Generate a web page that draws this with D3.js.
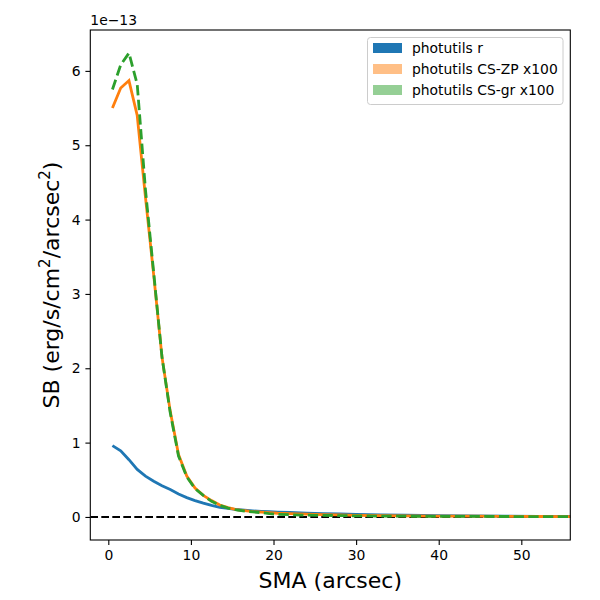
<!DOCTYPE html>
<html>
<head>
<meta charset="utf-8">
<script src="https://cdn.jsdelivr.net/npm/d3@7"></script>
<style>
  body { margin: 0; background: #fff; }
  svg { font-family: "DejaVu Sans", sans-serif; }
</style>
</head>
<body>
<svg id="chart" width="600" height="600"></svg>
<script>
// surface brightness profiles, values in units of 1e-13
const sma = [0.5, 1.5, 2.5, 3.5, 4.5, 5.5, 6.5, 7.5, 8.5, 9.5, 10.5, 11.5, 12.5, 13.5, 14.5, 15.5, 16.5, 17.5, 18.5, 19.5, 20.5, 22, 24, 26, 28, 30, 33, 36, 40, 44, 48, 52, 56, 60];
const sbR = [0.96, 0.89, 0.77, 0.64, 0.55, 0.48, 0.42, 0.37, 0.31, 0.26, 0.22, 0.185, 0.155, 0.13, 0.115, 0.10, 0.09, 0.082, 0.075, 0.07, 0.065, 0.06, 0.052, 0.045, 0.04, 0.035, 0.029, 0.024, 0.018, 0.014, 0.011, 0.008, 0.006, 0.005];
const sbZP = [5.50, 5.77, 5.87, 5.40, 4.30, 3.25, 2.15, 1.42, 0.84, 0.55, 0.39, 0.29, 0.22, 0.16, 0.125, 0.10, 0.085, 0.072, 0.064, 0.057, 0.05, 0.044, 0.038, 0.032, 0.027, 0.022, 0.018, 0.015, 0.012, 0.01, 0.008, 0.006, 0.005, 0.005];
const sbGR = [5.75, 6.08, 6.24, 5.82, 4.40, 3.28, 2.15, 1.40, 0.82, 0.54, 0.38, 0.29, 0.21, 0.155, 0.12, 0.095, 0.08, 0.068, 0.058, 0.045, 0.035, 0.03, 0.025, 0.021, 0.018, 0.015, 0.012, 0.01, 0.008, 0.007, 0.006, 0.005, 0.004, 0.004];

const xTicks = [0, 10, 20, 30, 40, 50];
const yTicks = [0, 1, 2, 3, 4, 5, 6];
const legendLabels = ["photutils r", "photutils CS-ZP x100", "photutils CS-gr x100"];

const svg = d3.select("#chart");

// plot box
const box = { left: 90.3, right: 570.3, top: 30, bottom: 540 };

const x = d3.scaleLinear().domain([-2.18, 55.93]).range([box.left, box.right]);
const y = d3.scaleLinear().domain([-0.31, 6.55]).range([box.bottom, box.top]);

svg.append("defs").append("clipPath")
  .attr("id", "clip")
  .append("rect")
  .attr("x", box.left).attr("y", box.top)
  .attr("width", box.right - box.left).attr("height", box.bottom - box.top);

// axes
const xAxis = svg.append("g")
  .attr("transform", `translate(0,${box.bottom})`)
  .call(d3.axisBottom(x).tickValues(xTicks).tickFormat(d3.format("d")).tickSize(4.9).tickPadding(4.9));

const yAxis = svg.append("g")
  .attr("transform", `translate(${box.left},0)`)
  .call(d3.axisLeft(y).tickValues(yTicks).tickFormat(d3.format("d")).tickSize(4.9).tickPadding(4.9));

[xAxis, yAxis].forEach(a => {
  a.select(".domain").remove();
  a.selectAll("line").attr("stroke", "#000").attr("stroke-width", 1.1);
  a.selectAll("text")
    .attr("font-size", 13.9)
    .attr("fill", "#000")
    .attr("font-family", "DejaVu Sans");
});

const plot = svg.append("g").attr("clip-path", "url(#clip)");

// zero line
plot.append("line")
  .attr("x1", box.left).attr("x2", box.right)
  .attr("y1", y(0)).attr("y2", y(0))
  .attr("stroke", "#000")
  .attr("stroke-width", 2)
  .attr("stroke-dasharray", "7.7,3.3");

const line = vals => d3.line()
  .x((d, i) => x(sma[i]))
  .y(d => y(d))(vals);

plot.append("path")
  .attr("d", line(sbR))
  .attr("fill", "none")
  .attr("stroke", "#1f77b4")
  .attr("stroke-width", 2.8);

plot.append("path")
  .attr("d", line(sbZP))
  .attr("fill", "none")
  .attr("stroke", "#ff7f0e")
  .attr("stroke-width", 2.8);

plot.append("path")
  .attr("d", line(sbGR))
  .attr("fill", "none")
  .attr("stroke", "#2ca02c")
  .attr("stroke-width", 2.8)
  .attr("stroke-dasharray", "10.3,4.4");

// frame
svg.append("rect")
  .attr("x", box.left).attr("y", box.top)
  .attr("width", box.right - box.left).attr("height", box.bottom - box.top)
  .attr("fill", "none")
  .attr("stroke", "#000")
  .attr("stroke-width", 1.1);

// offset text
svg.append("text")
  .attr("x", box.left)
  .attr("y", 25)
  .attr("font-size", 13.9)
  .text("1e\u221213");

// axis labels
svg.append("text")
  .attr("x", (box.left + box.right) / 2)
  .attr("y", 588)
  .attr("text-anchor", "middle")
  .attr("font-size", 22)
  .text("SMA (arcsec)");

const yl = svg.append("text")
  .attr("transform", `translate(59,${(box.top + box.bottom) / 2}) rotate(-90)`)
  .attr("text-anchor", "middle")
  .attr("font-size", 22);
yl.append("tspan").text("SB (erg/s/cm");
yl.append("tspan").attr("font-size", 15).attr("dy", -9).text("2");
yl.append("tspan").attr("dy", 9).text("/arcsec");
yl.append("tspan").attr("font-size", 15).attr("dy", -9).text("2");
yl.append("tspan").attr("dy", 9).text(")");

// legend
const legendColors = ["#1f77b4", "rgba(255,127,14,0.5)", "rgba(44,160,44,0.5)"];
const lg = svg.append("g");
lg.append("rect")
  .attr("x", 367.5).attr("y", 37.5)
  .attr("width", 195.5).attr("height", 67)
  .attr("rx", 3)
  .attr("fill", "#fff")
  .attr("fill-opacity", 0.8)
  .attr("stroke", "#ccc")
  .attr("stroke-width", 1);

legendLabels.forEach((lab, i) => {
  const cy = 48 + i * 21;
  lg.append("rect")
    .attr("x", 373).attr("y", cy - 5)
    .attr("width", 29).attr("height", 10)
    .attr("fill", legendColors[i]);
  lg.append("text")
    .attr("x", 412).attr("y", cy)
    .attr("dy", "0.35em")
    .attr("font-size", 13.9)
    .text(lab);
});
</script>
</body>
</html>
